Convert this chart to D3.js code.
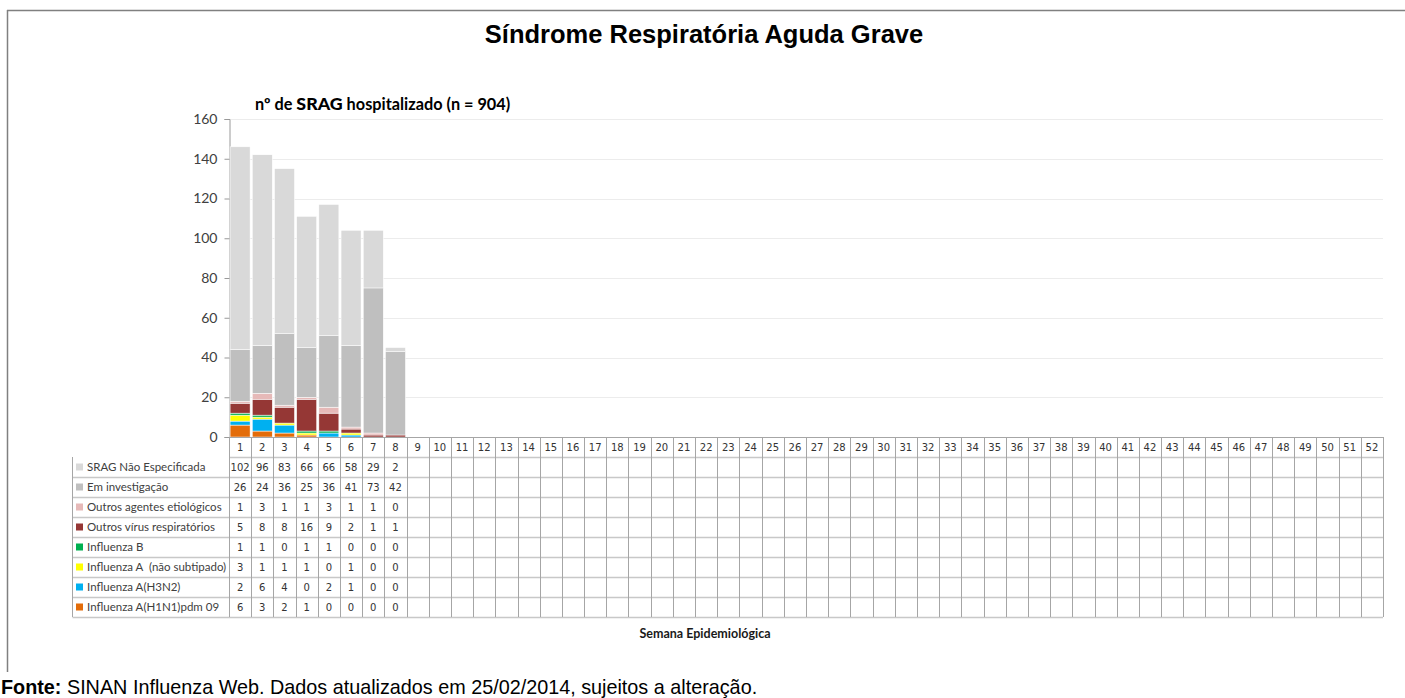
<!DOCTYPE html>
<html>
<head>
<meta charset="utf-8">
<script src="https://cdn.jsdelivr.net/npm/d3@7"></script>
<style>
  body { margin: 0; background: #fff; }
  svg { display: block; }
</style>
</head>
<body>
<div id="chart"></div>
<script>
// semanas epidemiológicas 1..52
var weeks = d3.range(1, 53);

// series, de cima para baixo como na tabela
var seriesNames = ["SRAG Não Especificada", "Em investigação", "Outros agentes etiológicos",
  "Outros vírus respiratórios", "Influenza B", "Influenza A  (não subtipado)",
  "Influenza A(H3N2)", "Influenza A(H1N1)pdm 09"];
var palette = ["#d9d9d9", "#bfbfbf", "#e6b9b8", "#953735", "#00b050", "#ffff00", "#00b0f0", "#e36c09"];

var sragNE = [102, 96, 83, 66, 66, 58, 29, 2];
var emInvestigacao = [26, 24, 36, 25, 36, 41, 73, 42];
var outrosAgentes = [1, 3, 1, 1, 3, 1, 1, 0];
var outrosVirus = [5, 8, 8, 16, 9, 2, 1, 1];
var influenzaB = [1, 1, 0, 1, 1, 0, 0, 0];
var influenzaANS = [3, 1, 1, 1, 0, 1, 0, 0];
var influenzaH3N2 = [2, 6, 4, 0, 2, 1, 0, 0];
var influenzaH1N1 = [6, 3, 2, 1, 0, 0, 0, 0];

var yTicks = [0, 20, 40, 60, 80, 100, 120, 140, 160];

var seriesValues = [sragNE, emInvestigacao, outrosAgentes, outrosVirus,
  influenzaB, influenzaANS, influenzaH3N2, influenzaH1N1];

var width = 1405, height = 698;
var svg = d3.select("#chart").append("svg")
  .attr("width", width)
  .attr("height", height);

// moldura
svg.append("line").attr("x1", 7).attr("x2", width).attr("y1", 10.5).attr("y2", 10.5)
  .style("stroke", "#808080").style("stroke-width", 1.5);
svg.append("line").attr("x1", 7.5).attr("x2", 7.5).attr("y1", 10).attr("y2", 672)
  .style("stroke", "#808080").style("stroke-width", 1.5);

svg.append("text")
  .attr("x", 704).attr("y", 43)
  .attr("text-anchor", "middle")
  .style("font-family", "Liberation Sans, Arial, sans-serif")
  .style("font-weight", "bold")
  .style("font-size", "25.5px")
  .text("Síndrome Respiratória Aguda Grave");

var sub = svg.append("text")
  .attr("x", 255).attr("y", 110)
  .style("font-family", "Lato, sans-serif")
  .style("font-weight", "bold")
  .style("font-size", "16.3px")
  .style("fill", "#000");
sub.append("tspan").text("nº de ");
sub.append("tspan").style("font-weight", 900).style("font-size", "17.8px").text("SRAG");
sub.append("tspan").text(" hospitalizado (n = 904)");

var plotLeft = 229, plotRight = 1383, plotTop = 119, plotBottom = 437;

var x = d3.scaleBand()
  .domain(weeks)
  .range([plotLeft, plotRight])
  .paddingInner(0.1)
  .paddingOuter(0.05);
var step = x.step();

var y = d3.scaleLinear().domain([0, 160]).range([plotBottom, plotTop]);

// grade
svg.append("g").selectAll("line")
  .data(yTicks.slice(1))
  .enter().append("line")
  .attr("x1", plotLeft).attr("x2", plotRight)
  .attr("y1", d => Math.round(y(d)) + 0.5).attr("y2", d => Math.round(y(d)) + 0.5)
  .style("stroke", "#ececec");

// eixo y
var yAxis = svg.append("g")
  .attr("transform", "translate(" + (plotLeft + 0.5) + ",0)")
  .call(d3.axisLeft(y).tickValues(yTicks).tickSize(5).tickPadding(7));
yAxis.select(".domain").style("stroke", "#999");
yAxis.selectAll(".tick line").style("stroke", "#999");
yAxis.selectAll("text")
  .style("font-family", "Lato, sans-serif")
  .style("font-size", "14px")
  .style("fill", "#404040");

// barras empilhadas (de baixo para cima)
var table = weeks.slice(0, 8).map(function(w, i) {
  var row = { week: w };
  seriesNames.forEach(function(n, k) { row[n] = seriesValues[k][i]; });
  return row;
});
var stackKeys = seriesNames.slice().reverse();
var stack = d3.stack().keys(stackKeys)(table);

svg.append("g").selectAll("g")
  .data(stack)
  .enter().append("g")
  .style("fill", d => palette[seriesNames.indexOf(d.key)])
  .selectAll("rect")
  .data(d => d)
  .enter().append("rect")
  .attr("x", d => x(d.data.week))
  .attr("width", x.bandwidth())
  .attr("y", d => y(d[1]))
  .attr("height", d => y(d[0]) - y(d[1]))
  .style("stroke", "#fff")
  .style("stroke-width", 0.5);

// tabela de dados
var rowH = 20;
var labelLeft = 72.5;
var colLeft = d => x(d) - step * x.paddingInner() / 2;
var gridColor = "#a6a6a6";
var hColor = "#c8c8c8";
var tbl = svg.append("g");

// cabeçalho (semanas)
tbl.selectAll(".hdr")
  .data(weeks)
  .enter().append("text")
  .attr("x", d => x(d) + x.bandwidth() / 2)
  .attr("y", plotBottom + 14)
  .attr("text-anchor", "middle")
  .style("font-family", "DejaVu Sans, sans-serif")
  .style("font-size", "10px")
  .style("fill", "#333")
  .text(d => d);

// linhas horizontais
var nRows = seriesNames.length;
tbl.selectAll(".hl")
  .data(d3.range(nRows + 1))
  .enter().append("line")
  .attr("x1", d => d === 0 ? plotLeft : labelLeft)
  .attr("x2", plotRight)
  .attr("y1", d => plotBottom + rowH * (d + 1) + 0.5)
  .attr("y2", d => plotBottom + rowH * (d + 1) + 0.5)
  .style("stroke", hColor)
  .style("stroke-width", 1.5);
tbl.append("line")
  .attr("x1", plotLeft).attr("x2", plotRight)
  .attr("y1", plotBottom + 0.5).attr("y2", plotBottom + 0.5)
  .style("stroke", gridColor);

// linhas verticais
tbl.selectAll(".vl")
  .data(weeks.concat([53]))
  .enter().append("line")
  .attr("x1", d => Math.round(d === 53 ? plotRight : colLeft(d)) + 0.5)
  .attr("x2", d => Math.round(d === 53 ? plotRight : colLeft(d)) + 0.5)
  .attr("y1", plotBottom)
  .attr("y2", plotBottom + rowH * (nRows + 1))
  .style("stroke", gridColor);
tbl.append("line")
  .attr("x1", labelLeft).attr("x2", labelLeft)
  .attr("y1", plotBottom + rowH).attr("y2", plotBottom + rowH * (nRows + 1))
  .style("stroke", gridColor);

// rótulos e valores
var rows = tbl.selectAll(".row")
  .data(seriesNames)
  .enter().append("g")
  .attr("transform", (d, i) => "translate(0," + (plotBottom + rowH * (i + 1)) + ")");

rows.append("rect")
  .attr("x", 76).attr("y", 6.5)
  .attr("width", 7).attr("height", 7)
  .style("fill", (d, i) => palette[i]);

rows.append("text")
  .attr("x", 87).attr("y", 14)
  .style("font-family", "Lato, sans-serif")
  .style("font-size", "11.5px")
  .style("fill", "#404040")
  .style("white-space", "pre")
  .text(d => d);

rows.each(function(name, i) {
  d3.select(this).selectAll(".val")
    .data(seriesValues[i])
    .enter().append("text")
    .attr("x", (d, j) => x(weeks[j]) + x.bandwidth() / 2)
    .attr("y", 14)
    .attr("text-anchor", "middle")
    .style("font-family", "DejaVu Sans, sans-serif")
    .style("font-size", "10px")
    .style("fill", "#333")
    .text(d => d);
});

svg.append("text")
  .attr("x", 705).attr("y", 638)
  .attr("text-anchor", "middle")
  .style("font-family", "Lato, sans-serif")
  .style("font-weight", "bold")
  .style("font-size", "12.5px")
  .style("fill", "#1a1a1a")
  .text("Semana Epidemiológica");

var fonte = svg.append("text")
  .attr("x", 1).attr("y", 694)
  .style("font-family", "Liberation Sans, Arial, sans-serif")
  .style("font-size", "19.8px");
fonte.append("tspan").style("font-weight", "bold").text("Fonte:");
fonte.append("tspan").text(" SINAN Influenza Web. Dados atualizados em 25/02/2014, sujeitos a alteração.");
</script>
</body>
</html>
